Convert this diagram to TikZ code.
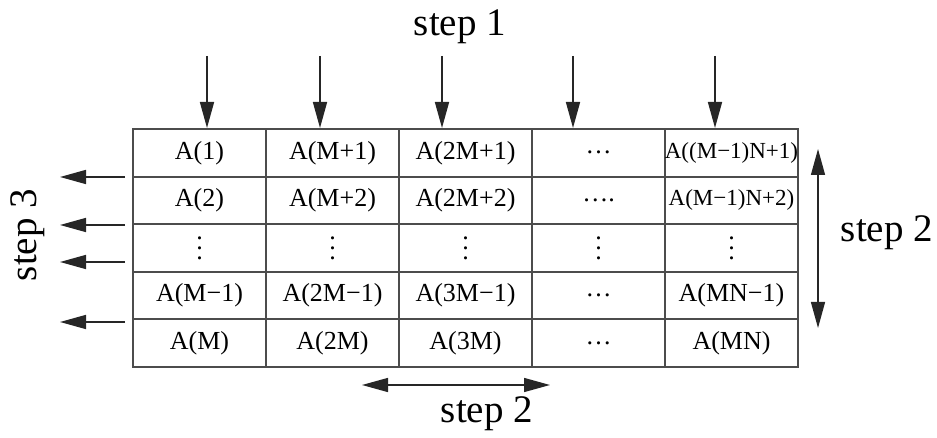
\documentclass[tikz,border=0pt]{standalone}
\usepackage{fontspec}
\setmainfont{Liberation Serif}
\usetikzlibrary{arrows.meta, positioning}
\newcommand{\coldots}{\vbox{\baselineskip5pt\lineskiplimit0pt\hbox{.}\hbox{.}\hbox{.}}}
\tikzset{
  cell/.style={draw=black!70, line width=1pt, minimum width=66.5pt,
    minimum height=23.8pt, inner sep=0pt, font=\fontsize{13}{15}\selectfont},
  small cell/.style={cell, font=\fontsize{11.5}{13}\selectfont},
  steplabel/.style={font=\fontsize{19.5}{22}\selectfont},
  flow/.style={-{Triangle[length=13pt,width=7pt]}, line width=0.8pt, black!85},
  both flow/.style={{Triangle[length=13pt,width=7pt]}-{Triangle[length=13pt,width=7pt]},
    line width=0.7pt, black!85},
}

\begin{document}
\begin{tikzpicture}[x=0.5pt, y=-0.5pt]
  \useasboundingbox (0,0) rectangle (937,438);

  % cells
  \foreach \t [count=\r] in {A(1), A(2), \coldots, A(M−1), A(M)}
    \node[cell] (c1-\r) at (199.5, 105.2+47.6*\r) {\t};
  \foreach \t [count=\r] in {A(M+1), A(M+2), \coldots, A(2M−1), A(2M)}
    \node[cell] (c2-\r) at (332.5, 105.2+47.6*\r) {\t};
  \foreach \t [count=\r] in {A(2M+1), A(2M+2), \coldots, A(3M−1), A(3M)}
    \node[cell] (c3-\r) at (465.5, 105.2+47.6*\r) {\t};
  \foreach \t [count=\r] in {{\ldots}, {\ldots.}, \coldots, {\ldots}, {\ldots}}
    \node[cell] (c4-\r) at (598.5, 105.2+47.6*\r) {\t};
  \node[small cell] (c5-1) at (731.5, 152.8) {A((M−1)N+1)};
  \node[small cell] (c5-2) at (731.5, 200.4) {A(M−1)N+2)};
  \foreach \t [count=\r from 3] in {\coldots, A(MN−1), A(MN)}
    \node[cell] (c5-\r) at (731.5, 105.2+47.6*\r) {\t};

  % step 1
  \node[steplabel] (s1) at (460,27) {step 1};
  \foreach \x [count=\i] in {207,320,442,573,715} {
    \coordinate (top\i) at (\x,56);
    \draw[flow] (top\i) -- (top\i |- c\i-1.north);
  }

  % step 2
  \coordinate (up) at (818,149);
  \coordinate (down) at (818,328);
  \draw[both flow] (up) -- (down);
  \node[steplabel] (s2r) at (887,233) {step 2};
  \coordinate (left) at (362,385);
  \coordinate (right) at (550,385);
  \draw[both flow] (left) -- (right);
  \node[steplabel] (s2b) at (487,414) {step 2};

  % step 3
  \node[steplabel, rotate=90] (s3) at (28,235) {step 3};
  \foreach \y [count=\i] in {177,225,262,322} {
    \coordinate (out\i) at (125,\y);
    \coordinate (end\i) at (60,\y);
    \draw[flow] (out\i) -- (end\i);
  }
\end{tikzpicture}
\end{document}
